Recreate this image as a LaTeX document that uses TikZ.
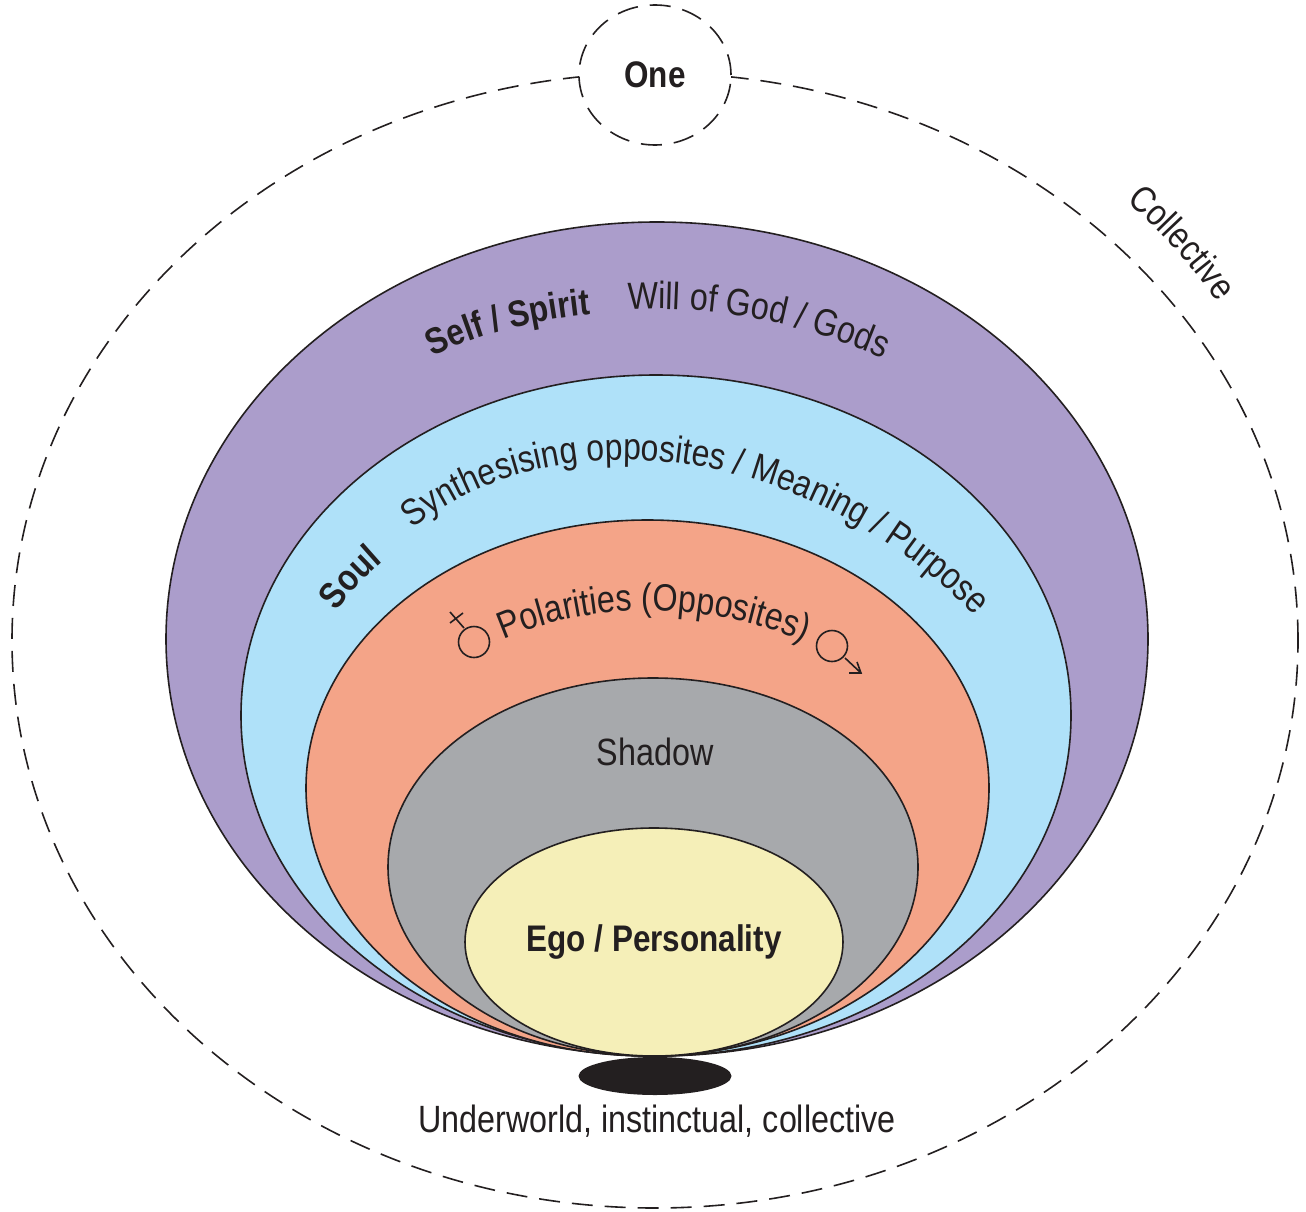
\documentclass[tikz,border=0pt]{standalone}
\usepackage{fontspec}
\setmainfont[FakeStretch=0.85]{Liberation Sans}
\usetikzlibrary{shapes.geometric,decorations.text}
\definecolor{ink}{HTML}{231F20}
\definecolor{purplefill}{HTML}{AB9DCB}
\definecolor{bluefill}{HTML}{AFE1F9}
\definecolor{salmonfill}{HTML}{F4A488}
\definecolor{greyfill}{HTML}{A7A9AC}
\definecolor{yellowfill}{HTML}{F5EFB8}
\newcommand{\lblfont}{\fontsize{38}{42}\selectfont\color{ink}}
\newcommand{\lblmid}{\fontsize{37.5}{42}\selectfont\color{ink}}
\newcommand{\lblsmall}{\fontsize{37}{42}\selectfont\color{ink}}
\newcommand{\lblbold}{\fontsize{37}{42}\selectfont\bfseries\color{ink}}
\tikzset{
  layer/.style={ellipse,draw=ink,line width=1.6pt,inner sep=0pt,outer sep=0pt},
  dashring/.style={ellipse,draw=ink,line width=1.6pt,inner sep=0pt,outer sep=0pt,dash pattern=on 21pt off 12pt},
  label/.style={text=ink,inner sep=0pt,font=\lblfont},
  curved/.style={decorate,decoration={text along path,text align=center,text={|\lblfont|#1}}},
  curvedmid/.style={decorate,decoration={text along path,text align=center,text={|\lblmid|#1}}},
  curvedsmall/.style={decorate,decoration={text along path,text align=center,text={|\lblsmall|#1}}},
  curvedbold/.style={decorate,decoration={text along path,text align=center,text={|\lblbold|#1}}},
  symbol/.style={draw=ink,line width=1.6pt}
}
\begin{document}
\begin{tikzpicture}[x=1pt,y=-1pt]
\useasboundingbox (0,0) rectangle (1306,1212);
\node[dashring,minimum width=1286pt,minimum height=1135pt] (outer) at (655,640.5) {};
\node[dashring,fill=white,minimum width=152pt,minimum height=140pt,font=\lblbold,text=ink] (one) at (655,75) {One};
\node[layer,fill=purplefill,minimum width=982pt,minimum height=834pt] (self) at (657,639) {};
\node[layer,fill=bluefill,minimum width=830pt,minimum height=681pt] (soul) at (656,715.5) {};
\node[layer,fill=salmonfill,minimum width=683pt,minimum height=536pt] (polar) at (647.5,788) {};
\node[layer,fill=greyfill,minimum width=530pt,minimum height=378pt] (shadow) at (653,867) {};
\node[layer,fill=yellowfill,minimum width=378pt,minimum height=228pt,font=\lblbold,text=ink] (ego) at (654,942) {Ego / Personality};
\node[ellipse,fill=ink,inner sep=0pt,minimum width=153pt,minimum height=38pt] (under) at (655,1076) {};
\node[label] (shadowlabel) at (655,752) {Shadow};
\node[label] (underlabel) at (657,1121) {Underworld, instinctual, collective};
\path[curvedbold={Self / Spirit}] (426,360) .. controls (480,332) and (540,319) .. (598,314);
\path[curved={Will of God / Gods}] (625,310) .. controls (712,304) and (807,324) .. (886,360);
\path[curvedbold={Soul}] (333,617) .. controls (348,595) and (366,575) .. (388,557);
\path[curvedmid={Synthesising opposites / Meaning / Purpose}] (394,545) .. controls (525,418) and (800,422) .. (992,634);
\path[curved={Polarities (Opposites)}] (498,642) .. controls (590,600) and (710,600) .. (810,644);
\path[curvedsmall={Collective}] (1126,201) .. controls (1159,229) and (1189,263) .. (1218,303);
% female symbol
\draw[symbol] (474,642) circle (15.5);
\draw[symbol] (464,628) -- (450,612) (450,623) -- (463,613);
% male symbol
\draw[symbol] (832,646) circle (15.5);
\draw[symbol] (845,658) -- (861,673) (857,662) -- (861,673) -- (849,673);
\end{tikzpicture}
\end{document}
